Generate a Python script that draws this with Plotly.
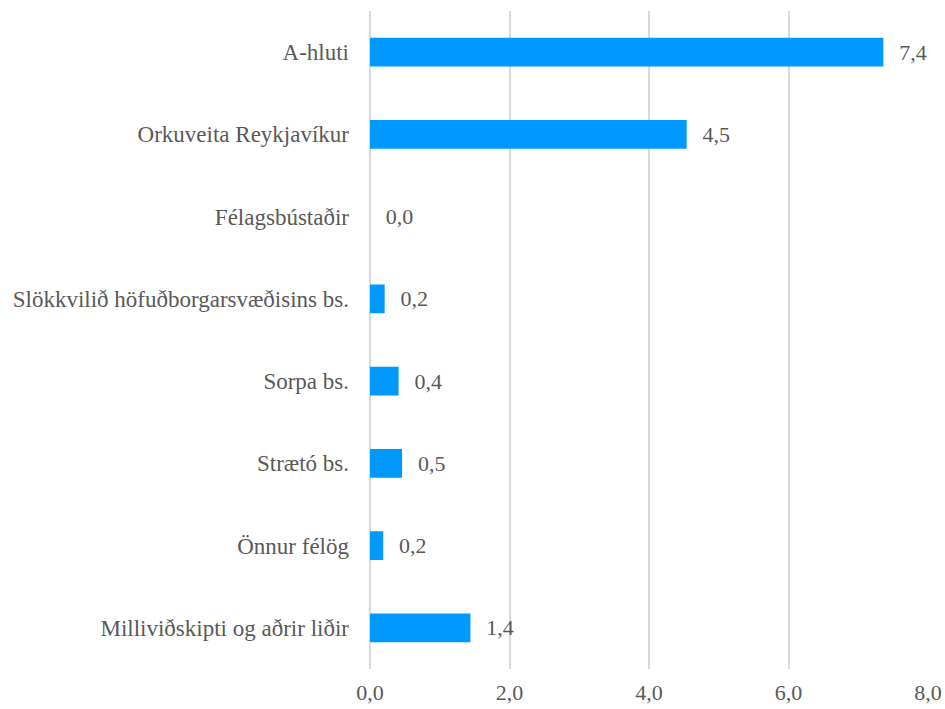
import plotly.graph_objects as go

categories = [
    "A-hluti",
    "Orkuveita Reykjavíkur",
    "Félagsbústaðir",
    "Slökkvilið höfuðborgarsvæðisins bs.",
    "Sorpa bs.",
    "Strætó bs.",
    "Önnur félög",
    "Milliviðskipti og aðrir liðir",
]
values = [7.36, 4.54, 0.0, 0.21, 0.41, 0.46, 0.19, 1.44]
x_ticks = [0, 2, 4, 6, 8]

FONT = "Liberation Serif"
GREY = "#595959"

fig = go.Figure(
    go.Bar(
        y=categories,
        x=values,
        orientation="h",
        marker=dict(color="#0099ff", line=dict(width=0)),
        texttemplate="\u00a0\u00a0\u200a%{x:.1f}",
        textposition="outside",
        textfont=dict(family=FONT, size=22, color=GREY),
        cliponaxis=False,
        hoverinfo="skip",
    )
)

fig.update_layout(
    width=945,
    height=709,
    margin=dict(l=370, r=17, t=11, b=40, autoexpand=False),
    paper_bgcolor="white",
    plot_bgcolor="white",
    separators=",.",
    bargap=0.65,
    showlegend=False,
    font=dict(family=FONT, size=22, color=GREY),
)
fig.update_xaxes(
    range=[0, 8],
    tickvals=x_ticks,
    tickformat=".1f",
    showgrid=True,
    gridcolor="#d9d9d9",
    gridwidth=2,
    zeroline=True,
    zerolinecolor="#d9d9d9",
    zerolinewidth=2,
    showline=False,
    ticks="",
    automargin=False,
    ticklabelstandoff=8,
    tickfont=dict(family=FONT, size=22, color=GREY),
)
fig.update_yaxes(
    categoryorder="array",
    categoryarray=categories,
    autorange="reversed",
    showgrid=False,
    zeroline=False,
    showline=False,
    ticks="",
    automargin=False,
    ticklabelstandoff=20,
    tickfont=dict(family=FONT, size=23, color=GREY),
)

fig.write_html(
    "out.html",
    config={"displayModeBar": False, "staticPlot": True},
    post_script="document.body.style.margin='0';document.documentElement.style.overflow='hidden';",
)
